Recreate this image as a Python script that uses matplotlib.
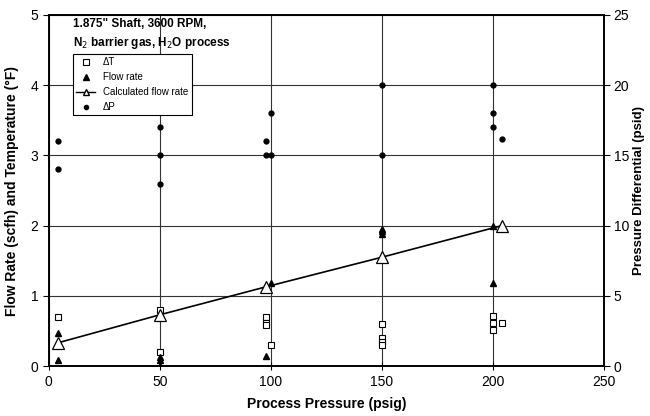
import numpy as np
import matplotlib.pyplot as plt
from matplotlib.lines import Line2D

plt.rcParams['font.family'] = ['Liberation Sans', 'DejaVu Sans']

# measured temperature rise (left axis)
dt_x = [4, 50, 50, 98, 98, 98, 100, 150, 150, 150, 150, 200, 200, 200, 204]
dt_y = [0.7, 0.8, 0.2, 0.7, 0.62, 0.58, 0.3, 0.6, 0.4, 0.35, 0.3, 0.72, 0.62, 0.51, 0.62]

# measured flow rate (left axis)
fr_x = [4, 4, 50, 50, 50, 98, 100, 150, 150, 150, 200, 200]
fr_y = [0.47, 0.08, 0.13, 0.08, 0.0, 0.15, 1.18, 1.95, 1.92, 1.88, 1.19, 2.0]

# calculated flow rate
calc_x = [4, 50, 98, 150, 204]
calc_y = [0.33, 0.73, 1.13, 1.55, 2.0]

# pressure differential (right axis, psid)
dp_x = [4, 4, 50, 50, 50, 98, 98, 100, 100, 150, 150, 200, 200, 200, 204]
dp_y = [16, 14, 17, 15, 13, 16, 15, 18, 15, 20, 15, 20, 18, 17, 16.2]

fig = plt.figure(figsize=(6.5, 4.16), dpi=100)
ax = fig.add_axes([0.075, 0.12, 0.854, 0.844])
ax2 = ax.twinx()

ax.set_xlim(0, 250)
ax.set_ylim(0, 5)
ax2.set_ylim(0, 25)
ax.set_xticks([0, 50, 100, 150, 200, 250])
ax.set_yticks([0, 1, 2, 3, 4, 5])
ax2.set_yticks([0, 5, 10, 15, 20, 25])

ax.grid(True, color='#333333', linewidth=0.8)
ax.set_axisbelow(True)

ax.plot(dt_x, dt_y, 's', ms=5, mfc='white', mec='black', mew=0.8, zorder=3)
ax.plot(fr_x, fr_y, '^', ms=5, color='black', zorder=3)
ax.plot(calc_x, calc_y, '-^', ms=9, color='black', lw=1.2, mfc='white',
        mec='black', mew=0.9, zorder=4)
ax2.plot(dp_x, dp_y, 'o', ms=3.5, color='black', zorder=3)

for a in (ax, ax2):
    for s in a.spines.values():
        s.set_linewidth(1.2)
ax.tick_params(axis='x', direction='inout', length=6, labelsize=10)
ax.tick_params(axis='y', direction='out', length=4, labelsize=10)
ax2.tick_params(axis='y', direction='out', length=4, labelsize=10, pad=3)

ax.set_xlabel('Process Pressure (psig)', fontsize=10, fontweight='bold', labelpad=6)
ax.set_ylabel('Flow Rate (scfh) and Temperature (°F)', fontsize=10, fontweight='bold', labelpad=8)
ax2.set_ylabel('Pressure Differential (psid)', fontsize=9.5, fontweight='bold', labelpad=3)

ax.text(10.8, 4.95, '1.875" Shaft, 3600 RPM,\nN$_2$ barrier gas, H$_2$O process',
        fontsize=8.5, fontweight='bold', va='top', ha='left', linespacing=1.45)

handles = [
    Line2D([], [], ls='none', marker='s', ms=4, mfc='white', mec='black', mew=0.8),
    Line2D([], [], ls='none', marker='^', ms=4, color='black'),
    Line2D([], [], ls='-', marker='^', ms=5, color='black', lw=1, mfc='white', mec='black'),
    Line2D([], [], ls='none', marker='o', ms=3, color='black'),
]
leg = ax.legend(handles, ['ΔT', 'Flow rate', 'Calculated flow rate', 'ΔP'],
                loc='upper left', bbox_to_anchor=(0.043, 0.889), fontsize=7,
                frameon=True, fancybox=False, edgecolor='black', framealpha=1,
                handlelength=2.0, borderpad=0.35, labelspacing=0.5,
                borderaxespad=0)
leg.get_frame().set_linewidth(0.8)

fig.savefig('out.png', dpi=100)
